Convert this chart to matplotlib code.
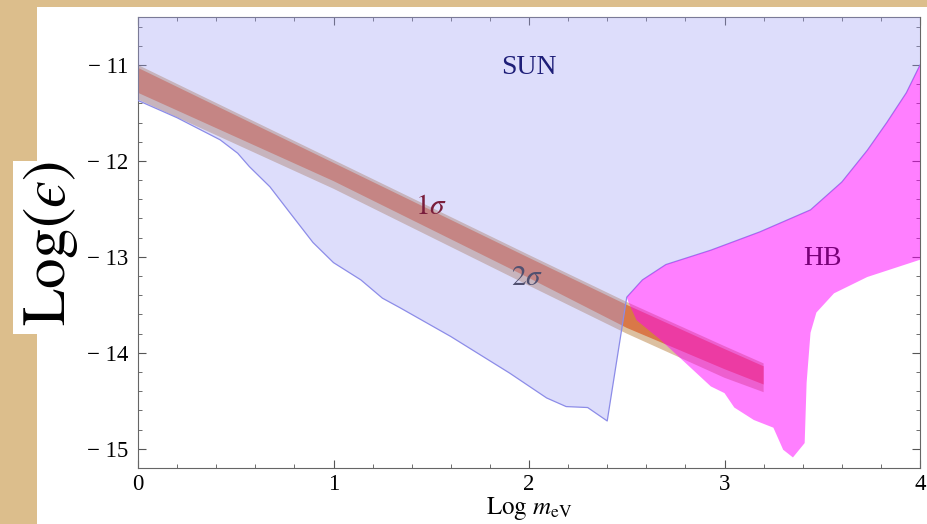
import matplotlib.pyplot as plt
from matplotlib.patches import Rectangle
from matplotlib.ticker import MultipleLocator, FuncFormatter

plt.rcParams["font.family"] = ["Liberation Serif", "DejaVu Serif"]
plt.rcParams["mathtext.fontset"] = "stix"

# solar bound: lower edge of the excluded region
sun_x = [0.0, 0.2, 0.42, 0.51, 0.57, 0.675, 0.777, 0.895, 1.0, 1.14, 1.25, 1.34,
         1.6, 1.9, 2.09, 2.19, 2.3, 2.4, 2.5, 2.58, 2.7, 2.93, 3.18, 3.44,
         3.6, 3.73, 3.83, 3.93, 4.0]
sun_y = [-11.37, -11.55, -11.78, -11.92, -12.06, -12.27, -12.54, -12.85, -13.06,
         -13.24, -13.43, -13.53, -13.83, -14.21, -14.47, -14.56, -14.57, -14.71,
         -13.42, -13.24, -13.08, -12.93, -12.74, -12.51, -12.22, -11.89, -11.60,
         -11.29, -11.0]

# horizontal branch stars: lower/right edge (upper edge follows the solar line)
hb_x = [4.0, 3.73, 3.56, 3.47, 3.44, 3.42, 3.41, 3.35, 3.30, 3.25, 3.15, 3.05,
        3.00, 2.93, 2.84, 2.67, 2.55, 2.51]
hb_y = [-13.03, -13.21, -13.38, -13.58, -13.79, -14.31, -14.94, -15.09, -15.01,
        -14.78, -14.70, -14.57, -14.42, -14.35, -14.18, -13.86, -13.66, -13.48]

# fit bands
band_x = [0.0, 1.0, 2.0, 2.5, 3.0, 3.2]
s1_top = [-11.03, -12.02, -13.01, -13.50, -13.96, -14.14]
s1_bot = [-11.29, -12.21, -13.22, -13.74, -14.17, -14.33]
s2_top = [-11.00, -11.99, -12.98, -13.47, -13.93, -14.11]
s2_bot = [-11.36, -12.29, -13.30, -13.80, -14.26, -14.41]

fig = plt.figure(figsize=(9.28, 5.24), dpi=100, facecolor="#dcbe8c")
fig.patches.append(Rectangle((0.04, 0), 0.96, 0.9866, transform=fig.transFigure,
                             facecolor="white", edgecolor="none", zorder=-2))
fig.patches.append(Rectangle((0.014, 0.3626), 0.03, 0.33, transform=fig.transFigure,
                             facecolor="white", edgecolor="none", zorder=-2))

ax = fig.add_axes([0.1487, 0.1069, 0.8427, 0.8607])
ax.set_facecolor("white")

# bands
ax.fill_between(band_x, s2_top, s2_bot, facecolor="#dcc0a0", edgecolor="none", zorder=1)
ax.fill_between(band_x, s1_top, s1_bot, facecolor="#d97848", edgecolor="none", zorder=2)

# sun region
poly_x = sun_x + [4.0, 0.0]
poly_y = sun_y + [-10.0, -10.0]
ax.fill(poly_x, poly_y, facecolor="#a0a0f5", alpha=0.35, edgecolor="none", zorder=3)
ax.plot(sun_x, sun_y, color="#8c8ce8", lw=0.9, zorder=4)

# HB region
i0 = sun_x.index(2.5)
hb_px = sun_x[i0:] + hb_x
hb_py = sun_y[i0:] + hb_y
ax.fill(hb_px, hb_py, facecolor="#ff00ff", alpha=0.5, edgecolor="none", zorder=5)

ax.text(2.0, -11.03, "SUN", color="#1e1e78", fontsize=20, ha="center", va="center", zorder=6)
ax.text(3.5, -13.02, "HB", color="#780078", fontsize=20, ha="center", va="center", zorder=6)
ax.text(1.5, -12.48, r"$1\sigma$", color="#7a1e3c", fontsize=21, ha="center", va="center", zorder=6)
ax.text(1.99, -13.22, r"$2\sigma$", color="#505070", fontsize=21, ha="center", va="center", zorder=6)

ax.set_xlim(0, 4)
ax.set_ylim(-15.2, -10.5)
ax.xaxis.set_major_locator(MultipleLocator(1))
ax.xaxis.set_minor_locator(MultipleLocator(0.2))
ax.yaxis.set_major_locator(MultipleLocator(1))
ax.yaxis.set_minor_locator(MultipleLocator(0.2))
ax.yaxis.set_major_formatter(FuncFormatter(lambda v, p: "\u2212 %d" % abs(v) if v < 0 else "%d" % v))
ax.tick_params(which="both", direction="in", top=True, right=True, color="#555555",
               labelsize=16.5)
ax.tick_params(which="major", length=6)
ax.tick_params(which="minor", length=3)
ax.tick_params(axis="y", pad=7)
ax.tick_params(axis="x", pad=4)
for sp in ax.spines.values():
    sp.set_color("#666666")

ax.set_xlabel(r"$\mathrm{Log}\ m_{\mathrm{eV}}$", fontsize=18, labelpad=0)
fig.text(0.054, 0.536, "$\\mathrm{Log}(\u03f5)$", fontsize=44, rotation=90,
         ha="center", va="center")

fig.savefig("out.png", dpi=100, facecolor=fig.get_facecolor())
